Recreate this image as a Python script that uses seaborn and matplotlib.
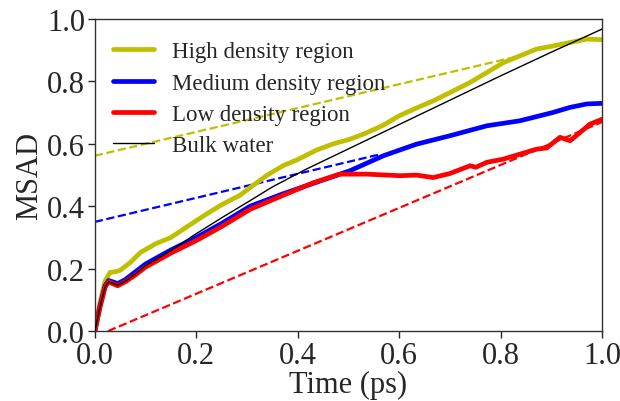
import numpy as np
import matplotlib
matplotlib.use("Agg")
import matplotlib.pyplot as plt
import pandas as pd
import seaborn as sns

# MSAD curves
high_t = [0, 0.01, 0.02, 0.03, 0.04, 0.05, 0.07, 0.09, 0.12, 0.15, 0.187, 0.22, 0.25, 0.286, 0.306, 0.34,
          0.371, 0.40, 0.437, 0.47, 0.503, 0.535, 0.569, 0.60, 0.634, 0.67, 0.707, 0.74, 0.773, 0.805, 0.838,
          0.871, 0.904, 0.937, 0.970, 1.0]
high_msad = [0, 0.09, 0.16, 0.188, 0.19, 0.195, 0.22, 0.252, 0.28, 0.30, 0.34, 0.375, 0.405, 0.435, 0.46, 0.50,
             0.53, 0.55, 0.58, 0.60, 0.615, 0.635, 0.66, 0.69, 0.715, 0.74, 0.77, 0.797, 0.829, 0.86, 0.882,
             0.904, 0.914, 0.925, 0.936, 0.934]

med_t = [0, 0.01, 0.02, 0.027, 0.035, 0.045, 0.06, 0.08, 0.1, 0.15, 0.2, 0.25, 0.306, 0.371, 0.437, 0.503,
         0.569, 0.634, 0.70, 0.773, 0.838, 0.904, 0.937, 0.97, 1.0]
med_msad = [0, 0.08, 0.145, 0.162, 0.158, 0.152, 0.165, 0.19, 0.215, 0.26, 0.30, 0.345, 0.40, 0.44, 0.477, 0.514,
            0.562, 0.599, 0.626, 0.658, 0.674, 0.701, 0.717, 0.728, 0.73]

low_t = [0, 0.01, 0.02, 0.027, 0.035, 0.045, 0.06, 0.08, 0.1, 0.15, 0.2, 0.25, 0.306, 0.371, 0.43, 0.483,
         0.536, 0.602, 0.634, 0.667, 0.70, 0.740, 0.751, 0.773, 0.805, 0.838, 0.871, 0.891, 0.917, 0.937,
         0.957, 0.976, 1.0]
low_msad = [0, 0.075, 0.14, 0.158, 0.152, 0.145, 0.158, 0.18, 0.205, 0.25, 0.29, 0.335, 0.39, 0.435, 0.475, 0.503,
            0.503, 0.498, 0.50, 0.492, 0.505, 0.530, 0.525, 0.541, 0.551, 0.567, 0.583, 0.587, 0.621, 0.610,
            0.637, 0.663, 0.679]

bulk_t = [0, 0.01, 0.02, 0.027, 0.035, 0.045, 0.06, 0.08, 0.1, 0.15, 0.194, 0.25, 0.306, 0.35, 0.418, 0.5,
          0.6, 0.7, 0.8, 0.9, 1.0]
bulk_msad = [0, 0.075, 0.14, 0.158, 0.153, 0.147, 0.16, 0.183, 0.21, 0.258, 0.306, 0.363, 0.418, 0.462, 0.52, 0.584,
             0.662, 0.740, 0.818, 0.894, 0.968]

# linear fits (dashed): start time, end time, intercept, slope
fit_names = ["high", "medium", "low"]
fit_start = [0.0, 0.0, 0.026]
fit_end = [0.85, 0.56, 1.0]
fit_intercept = [0.562, 0.350, -0.018]
fit_slope = [0.382, 0.385, 0.688]

colors = {"high": "y", "medium": "b", "low": "r"}

sns.set_style("ticks")
plt.rcParams['font.family'] = ['Liberation Serif', 'DejaVu Serif']
plt.rcParams['mathtext.fontset'] = 'stix'

fig, ax = plt.subplots(figsize=(6.2, 4.02), dpi=100)
fig.subplots_adjust(left=0.153, right=0.971, bottom=0.174, top=0.950)

for name, t0, t1, b, k in zip(fit_names, fit_start, fit_end, fit_intercept, fit_slope):
	tt = np.array([t0, t1])
	sns.lineplot(x=tt, y=b + k * tt, ax=ax, color=colors[name], linestyle='--', linewidth=1.6, zorder=1)

sns.lineplot(x=high_t, y=high_msad, ax=ax, color='y', linewidth=3.4, label='High density region', sort=False, zorder=2)
sns.lineplot(x=med_t, y=med_msad, ax=ax, color='b', linewidth=3.4, label='Medium density region', sort=False, zorder=2)
sns.lineplot(x=low_t, y=low_msad, ax=ax, color='r', linewidth=3.4, label='Low density region', sort=False, zorder=2)
sns.lineplot(x=bulk_t, y=bulk_msad, ax=ax, color='k', linewidth=1.0, label='Bulk water', sort=False, zorder=3)

ax.set_xlim(0, 1)
ax.set_ylim(0, 1)
ax.set_xticks([0, 0.2, 0.4, 0.6, 0.8, 1.0])
ax.set_yticks([0, 0.2, 0.4, 0.6, 0.8, 1.0])
ax.set_xticklabels(["0.0", "0.2", "0.4", "0.6", "0.8", "1.0"])
ax.set_yticklabels(["0.0", "0.2", "0.4", "0.6", "0.8", "1.0"])
ax.tick_params(labelsize=22, length=5, width=1, direction='out', pad=2)
ax.set_xlabel("Time (ps)", fontsize=22, labelpad=0)
ax.set_ylabel("MSAD", fontsize=22, labelpad=2)
for s in ax.spines.values():
	s.set_linewidth(1.0)
	s.set_color('#333333')

ax.legend(loc='upper left', frameon=False, fontsize=16.5, handlelength=1.75, handletextpad=0.8,
          labelspacing=0.45, borderaxespad=0.3, bbox_to_anchor=(0.005, 0.98))

fig.savefig("out.png", dpi=100)
